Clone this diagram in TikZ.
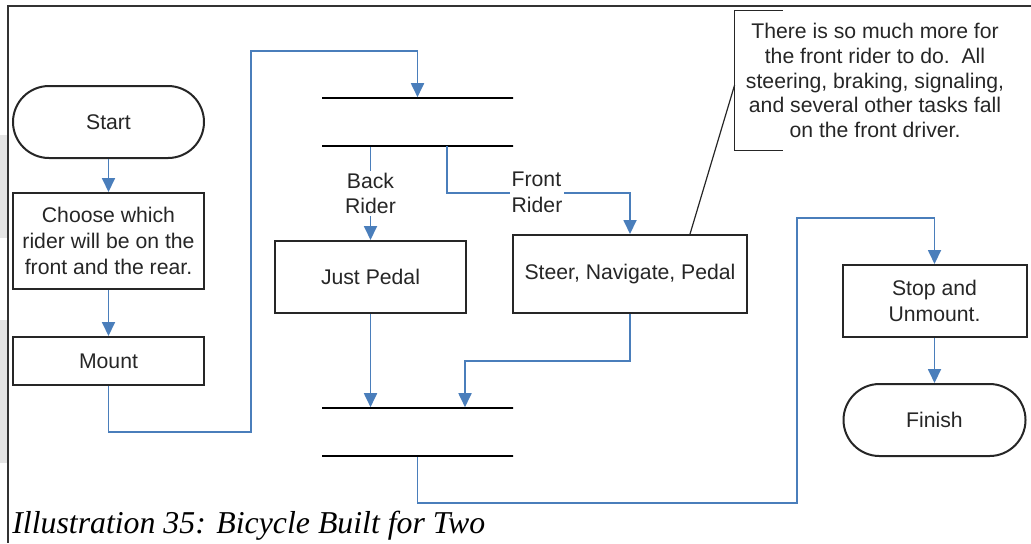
\documentclass[tikz,border=0pt]{standalone}
\usepackage{fontspec}
\setmainfont{Liberation Sans}
\newfontfamily\captionserif{Liberation Serif}
\usetikzlibrary{arrows.meta}
\definecolor{flowblue}{HTML}{4A7EBB}
\definecolor{inkgray}{HTML}{262626}

\begin{document}
\begin{tikzpicture}[x=0.5pt, y=-0.5pt,
  every node/.style={font=\fontsize{10.6}{12.8}\selectfont, text=inkgray},
  proc/.style ={draw=black!85, line width=1pt, fill=white, align=center,
                inner sep=2pt, minimum width=95.5pt},
  term/.style ={proc, rounded corners=18pt, minimum height=36pt},
  bar/.style  ={draw=black, line width=0.8pt, minimum width=95.5pt,
                minimum height=0pt, inner sep=0pt},
  note/.style ={align=center, inner sep=0pt, minimum width=140pt,
                minimum height=69.5pt, font=\fontsize{10.6}{12.3}\selectfont},
  lbl/.style  ={fill=white, inner sep=1pt, align=center},
  flow/.style ={-{Triangle[length=7pt, width=6.5pt]}, line width=0.9pt, flowblue},
  callout/.style ={line width=0.6pt, black!85},
  frame/.style ={line width=0.75pt, black!80},
]
\useasboundingbox (0,0) rectangle (1031,543);

% ---------------- page edge ----------------
\fill[black!10] (0,135) rectangle (8,238);
\fill[black!10] (0,320) rectangle (8,463);
\draw[frame] (1031,6) -- (8,6) -- (8,543);

% ---------------- left column ----------------
\node[term] (start)  at (108.5,122) {Start};
\node[proc, minimum height=48pt] (choose) at (108.5,241)
  {Choose which\\rider will be on the\\front and the rear.};
\node[proc, minimum height=24pt] (mount) at (108.5,361) {Mount};

\draw[flow] (start.south) -- (choose.north);
\draw[flow] (choose.south) -- (mount.north);

% ---------------- fork / join bars ----------------
\node[bar] (forkA) at (417.5,98)  {};
\node[bar] (forkB) at (417.5,146) {};
\node[bar] (joinA) at (417.5,408) {};
\node[bar] (joinB) at (417.5,456) {};

\coordinate (loopA) at (251,432);
\coordinate (loopB) at (251,51);
\draw[flow] (mount.south) |- (loopA) -- (loopB) -| (forkA.north);

% ---------------- the two riders ----------------
\node[proc, minimum height=36pt] (pedal) at (370.5,277) {Just Pedal};
\node[proc, minimum width=117pt, minimum height=39pt] (steer) at (630,274)
  {Steer, Navigate, Pedal};

\draw[flow] (forkB.south -| pedal.north) -- node[lbl] {Back\\Rider} (pedal.north);
\coordinate (frontA) at (447,146);
\coordinate (frontB) at (447,193);
\draw[flow] (frontA) -- (frontB) -| (steer.north);
\node[lbl, align=left] (frontlbl) at (537,192) {Front\\Rider};

\draw[flow] (pedal.south) -- (pedal.south |- joinA.north);
\draw[flow] (steer.south) -- ++(0,47) -| ([xshift=23.75pt]joinA.north);

% ---------------- note on the front rider ----------------
\node[note] (note) at (875,80.5)
  {There is so much more for\\the front rider to do.\ \ All\\steering, braking, signaling,\\and several other tasks fall\\on the front driver.};
\draw[callout] ([xshift=24pt]note.north west) -- (note.north west)
  -- (note.south west) -- ([xshift=24pt]note.south west);
\draw[callout] ([xshift=30pt]steer.north) -- ([yshift=-2.25pt]note.west);

% ---------------- right column ----------------
\node[proc, minimum width=92pt, minimum height=36pt] (stop) at (934.5,301)
  {Stop and\\Unmount.};
\node[term, minimum width=91pt] (finish) at (934.5,420) {Finish};

\coordinate (detourA) at (797,503);
\coordinate (detourB) at (797,218);
\draw[flow] (joinB.south) |- (detourA) -- (detourB) -| (stop.north);
\draw[flow] (stop.south) -- (finish.north);

% ---------------- caption ----------------
\node[anchor=base west, text=black, inner sep=0pt,
      font=\captionserif\itshape\fontsize{15.9}{19}\selectfont] (caption)
  at (12,533) {Illustration 35: Bicycle Built for Two};
\end{tikzpicture}
\end{document}
